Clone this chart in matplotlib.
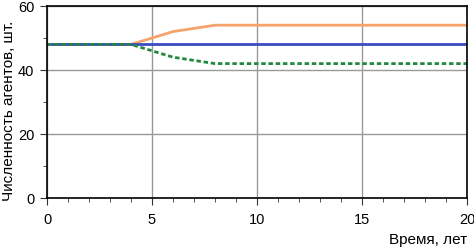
import matplotlib
matplotlib.use("Agg")
import matplotlib.pyplot as plt
from matplotlib.ticker import MultipleLocator

plt.rcParams["font.family"] = ["Liberation Sans", "DejaVu Sans"]

years = [0, 1, 2, 3, 4, 5, 6, 7, 8, 9, 10, 11, 12, 13, 14, 15, 16, 17, 18, 19, 20]
base = [48] * 21
growth = [48, 48, 48, 48, 48, 50, 52, 53, 54, 54, 54, 54, 54, 54, 54, 54, 54, 54, 54, 54, 54]
decline = [48, 48, 48, 48, 48, 46, 44, 43, 42, 42, 42, 42, 42, 42, 42, 42, 42, 42, 42, 42, 42]

fig = plt.figure(figsize=(4.74, 2.47), dpi=100)
ax = fig.add_axes([47 / 474, 49 / 247, 420 / 474, 192 / 247])

ax.plot(years, growth, color="#f5a36c", linewidth=2.0, solid_capstyle="butt")
ax.plot(years, base, color="#3b4cc0", linewidth=2.0, solid_capstyle="butt")
ax.plot(years, decline, color="#1f8a40", linewidth=2.0, linestyle=(0, (1.6, 1.0)))

ax.set_xlim(0, 20)
ax.set_ylim(0, 60)
ax.xaxis.set_major_locator(MultipleLocator(5))
ax.xaxis.set_minor_locator(MultipleLocator(1))
ax.yaxis.set_major_locator(MultipleLocator(20))
ax.yaxis.set_minor_locator(MultipleLocator(10))
ax.grid(which="major", color="#999999", linewidth=1.0)
ax.tick_params(which="both", direction="out", labelsize=10.5, color="#333333")
ax.tick_params(which="major", length=5, pad=4)
ax.tick_params(axis="x", which="major", pad=6)
ax.tick_params(which="minor", length=3)
for s in ax.spines.values():
    s.set_linewidth(1.2)

ax.set_ylabel("Численность агентов, шт.", fontsize=11)
ax.yaxis.set_label_coords(-0.074, 0.455)
ax.text(1.0, -0.18, "Время, лет", transform=ax.transAxes, ha="right", va="top", fontsize=11)

fig.savefig("out.png", dpi=100)
